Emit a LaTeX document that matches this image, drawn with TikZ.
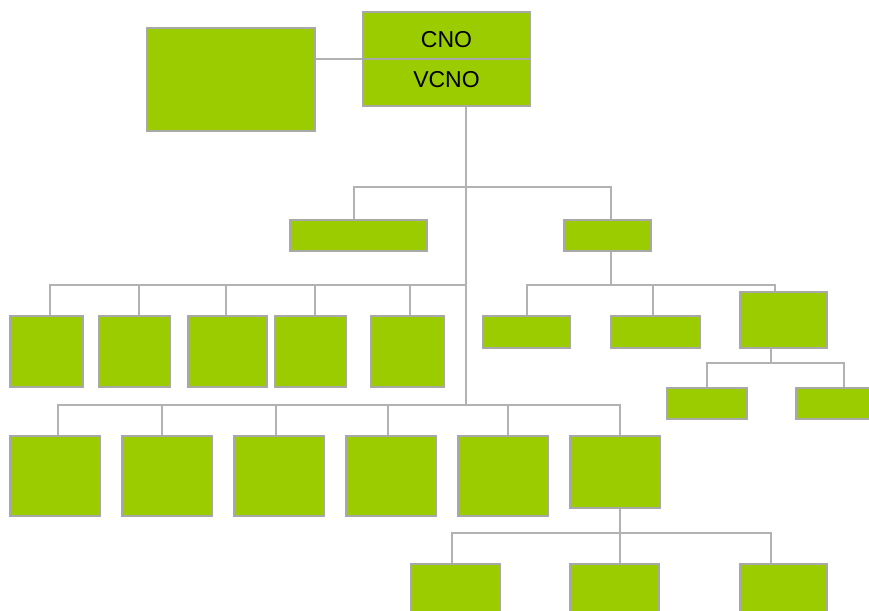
\documentclass[tikz,border=0pt]{standalone}
\usepackage{fontspec}
\setmainfont{Liberation Sans}
\usetikzlibrary{backgrounds}
\definecolor{boxgreen}{RGB}{154,204,0}
\definecolor{edgegray}{RGB}{168,168,168}
\definecolor{linegray}{RGB}{178,178,178}
\newcommand\bx[5]{\node[box,minimum width={(#4-#2)*1pt},minimum height={(#5-#3)*1pt}] (#1) at (#2,#3) {};}
\begin{document}
\begin{tikzpicture}[x=1pt,y=-1pt,
  box/.style={draw=edgegray, fill=boxgreen, line width=1.6pt, inner sep=0pt, outer sep=0pt, anchor=north west},
  conn/.style={draw=linegray, line width=1.4pt},
  lbl/.style={font=\fontsize{23}{27}\selectfont}]
\clip (0,0) rectangle (869,610);
% top
\node[box,minimum width=167pt,minimum height=47pt] (cno) at (363,12) {};
\node[box,minimum width=167pt,minimum height=47pt] (vcno) at (363,59) {};
\node[lbl] (cnot) at ([yshift=-4.5pt]cno.center) {CNO};
\node[lbl] (vcnot) at ([yshift=3pt]vcno.center) {VCNO};
\bx{side}{147}{28}{315}{131}
% level 1
\bx{A}{290}{220}{427}{251}
\bx{B}{564}{220}{651}{251}
% left row
\bx{L1}{10}{316}{83}{387}
\bx{L2}{99}{316}{170}{387}
\bx{L3}{188}{316}{267}{387}
\bx{L4}{275}{316}{346}{387}
\bx{L5}{371}{316}{444}{387}
% right row
\bx{C1}{483}{316}{570}{348}
\bx{C2}{611}{316}{700}{348}
\bx{C3}{740}{292}{827}{348}
\bx{D1}{667}{388}{747}{419}
\bx{D2}{796}{388}{892}{419}
% lower row
\bx{M1}{10}{436}{100}{516}
\bx{M2}{122}{436}{212}{516}
\bx{M3}{234}{436}{324}{516}
\bx{M4}{346}{436}{436}{516}
\bx{M5}{458}{436}{548}{516}
\bx{M6}{570}{436}{660}{508}
\bx{N1}{411}{564}{500}{625}
\bx{N2}{570}{564}{659}{625}
\bx{N3}{740}{564}{827}{625}
\begin{pgfonlayer}{background}
\coordinate (j1) at (466,187);
\coordinate (j2) at (466,285);
\coordinate (j3) at (466,405);
\path ([xshift=3.5pt]B.south) ++(0,34) coordinate (j4);
\path ([xshift=-12.5pt]C3.south) ++(0,15) coordinate (j5);
\path ([xshift=5pt]M6.south) ++(0,25) coordinate (j6);
\draw[conn] (side.east |- vcno.north west) -- (vcno.north west);
\draw[conn] (vcno.south -| j3) -- (j3);
\foreach \n/\s in {A/-4.5,B/3.5} \draw[conn] ([xshift=\s pt]\n.north) |- (j1);
\foreach \n/\s in {L1/3.5,L2/4.5,L3/-1.5,L4/4.5,L5/2.5} \draw[conn] ([xshift=\s pt]\n.north) |- (j2);
\foreach \n/\s in {M1/3,M2/-5,M3/-3,M4/-3,M5/5,M6/5} \draw[conn] ([xshift=\s pt]\n.north) |- (j3);
\draw[conn] ([xshift=3.5pt]B.south) -- (j4);
\foreach \n/\s in {C1/0.5,C2/-2.5,C3/-8.5} \draw[conn] ([xshift=\s pt]\n.north) |- (j4);
\draw[conn] ([xshift=-12.5pt]C3.south) -- (j5);
\foreach \n/\s in {D1/0,D2/0} \draw[conn] ([xshift=\s pt]\n.north) |- (j5);
\draw[conn] ([xshift=5pt]M6.south) -- (j6);
\foreach \n/\s in {N1/-3.5,N2/5.5,N3/-12.5} \draw[conn] ([xshift=\s pt]\n.north) |- (j6);
\end{pgfonlayer}
\end{tikzpicture}
\end{document}
